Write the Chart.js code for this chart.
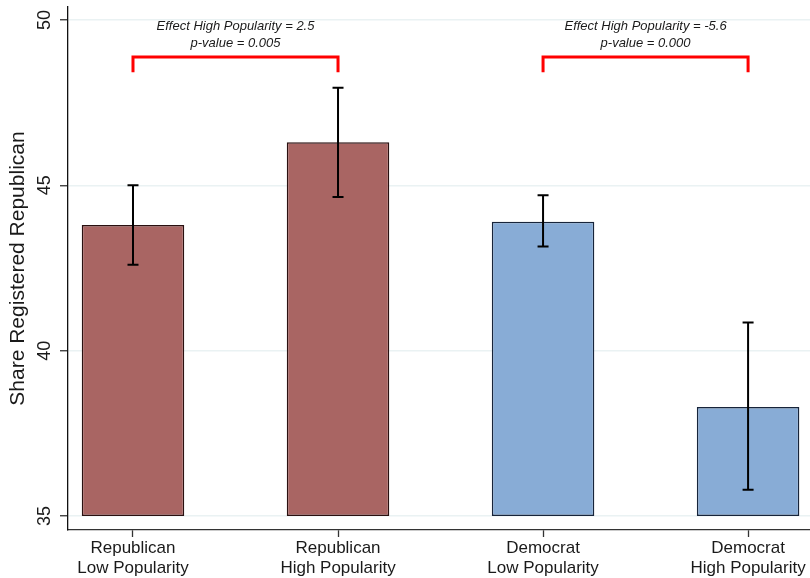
<!DOCTYPE html>
<html>
<head>
<meta charset="utf-8">
<script src="https://cdn.jsdelivr.net/npm/chart.js@4.4.1/dist/chart.umd.min.js"></script>
<style>
  html, body { margin: 0; padding: 0; background: #fff; }
  #wrap { width: 810px; height: 578px; }
</style>
</head>
<body>
<div id="wrap"><canvas id="chart" width="810" height="578"></canvas></div>
<script>
/* ─── Data ─────────────────────────────────────────────────────────────── */

const categories = [
  ['Republican', 'Low Popularity'],
  ['Republican', 'High Popularity'],
  ['Democrat', 'Low Popularity'],
  ['Democrat', 'High Popularity'],
];
const positions  = [1, 2, 3, 4];
const shares     = [43.8, 46.3, 43.9, 38.3];
const ciLow      = [42.6, 44.65, 43.15, 35.8];
const ciHigh     = [45.0, 47.95, 44.7, 40.85];
const yTicks     = [35, 40, 45, 50];
const BAR_BASE   = 35;

// brackets comparing low vs high popularity within each party
const effects = [
  { from: 1, to: 2, label: 'Effect High Popularity = 2.5',  p: 'p-value = 0.005' },
  { from: 3, to: 4, label: 'Effect High Popularity = -5.6', p: 'p-value = 0.000' },
];

const RED_FILL  = '#a96563';
const BLUE_FILL = '#88acd6';
const FONT      = '"Liberation Sans", Arial, Helvetica, sans-serif';

/* ─── Plugins ──────────────────────────────────────────────────────────── */

const errorBars = {
  id: 'errorBars',
  afterDatasetsDraw(chart) {
    const { ctx, scales: { x, y } } = chart;
    ctx.save();
    ctx.strokeStyle = '#000';
    ctx.lineWidth = 2;
    positions.forEach((pos, i) => {
      const px = x.getPixelForValue(pos);
      const top = y.getPixelForValue(ciHigh[i]);
      const bot = y.getPixelForValue(ciLow[i]);
      ctx.beginPath();
      ctx.moveTo(px, top); ctx.lineTo(px, bot);
      ctx.moveTo(px - 5.5, top); ctx.lineTo(px + 5.5, top);
      ctx.moveTo(px - 5.5, bot); ctx.lineTo(px + 5.5, bot);
      ctx.stroke();
    });
    ctx.restore();
  },
};

const brackets = {
  id: 'brackets',
  afterDraw(chart) {
    const { ctx, scales: { x, y } } = chart;
    const topY = y.getPixelForValue(48.88);
    const legY = y.getPixelForValue(48.42);
    ctx.save();
    effects.forEach(e => {
      const x1 = x.getPixelForValue(e.from);
      const x2 = x.getPixelForValue(e.to);
      ctx.strokeStyle = '#ff0000';
      ctx.lineWidth = 3;
      ctx.lineJoin = 'miter';
      ctx.beginPath();
      ctx.moveTo(x1, legY); ctx.lineTo(x1, topY);
      ctx.lineTo(x2, topY); ctx.lineTo(x2, legY);
      ctx.stroke();

      const mid = (x1 + x2) / 2;
      ctx.fillStyle = '#1a1a1a';
      ctx.font = 'italic 13px ' + FONT;
      ctx.textAlign = 'center';
      ctx.textBaseline = 'middle';
      ctx.fillText(e.label, mid, y.getPixelForValue(49.80));
      ctx.fillText(e.p,     mid, y.getPixelForValue(49.30));
    });
    ctx.restore();
  },
};

/* ─── Chart ────────────────────────────────────────────────────────────── */

new Chart(document.getElementById('chart'), {
  type: 'bar',
  data: {
    datasets: [{
      data: positions.map((p, i) => ({ x: p, y: [BAR_BASE, shares[i]] })),
      backgroundColor: [RED_FILL, RED_FILL, BLUE_FILL, BLUE_FILL],
      borderColor: ['#2a1010', '#2a1010', '#17243a', '#17243a'],
      borderWidth: 1.5,
      borderSkipped: false,
      barPercentage: 0.5,
      categoryPercentage: 1,
    }],
  },
  options: {
    responsive: false,
    animation: false,
    layout: { padding: { top: 7, right: 0, bottom: 0, left: 0 } },
    plugins: {
      legend: { display: false },
      tooltip: { enabled: false },
    },
    scales: {
      x: {
        type: 'linear',
        offset: false,
        min: 0.683,
        max: 4.302,
        afterBuildTicks: s => { s.ticks = positions.map(v => ({ value: v })); },
        afterFit: s => { s.height = 48; s.paddingLeft = 0; s.paddingRight = 0; },
        ticks: {
          color: '#1a1a1a',
          font: { family: FONT, size: 17 },
          padding: 1,
          maxRotation: 0,
          autoSkip: false,
          callback: v => categories[positions.indexOf(v)] || '',
        },
        grid: { offset: false, drawOnChartArea: false, tickLength: 7, tickColor: '#333', tickWidth: 1.3 },
        border: { color: '#333', width: 1.3 },
      },
      y: {
        min: 34.58,
        max: 50.39,
        afterBuildTicks: s => { s.ticks = yTicks.map(v => ({ value: v })); },
        afterFit: s => { s.width = 68; s.paddingTop = 0; s.paddingBottom = 0; },
        ticks: {
          color: '#1a1a1a',
          font: { family: FONT, size: 18 },
          minRotation: 90,
          maxRotation: 90,
          crossAlign: 'center',
          padding: 5,
        },
        grid: { color: '#eaf2f3', lineWidth: 1.5, tickLength: 8, tickColor: '#333', tickWidth: 1.3 },
        border: { color: '#111', width: 1.3 },
        title: {
          display: true,
          text: 'Share Registered Republican',
          color: '#1a1a1a',
          font: { family: FONT, size: 21 },
          padding: { top: 6, bottom: 0 },
        },
      },
    },
  },
  plugins: [errorBars, brackets],
});
</script>
</body>
</html>
